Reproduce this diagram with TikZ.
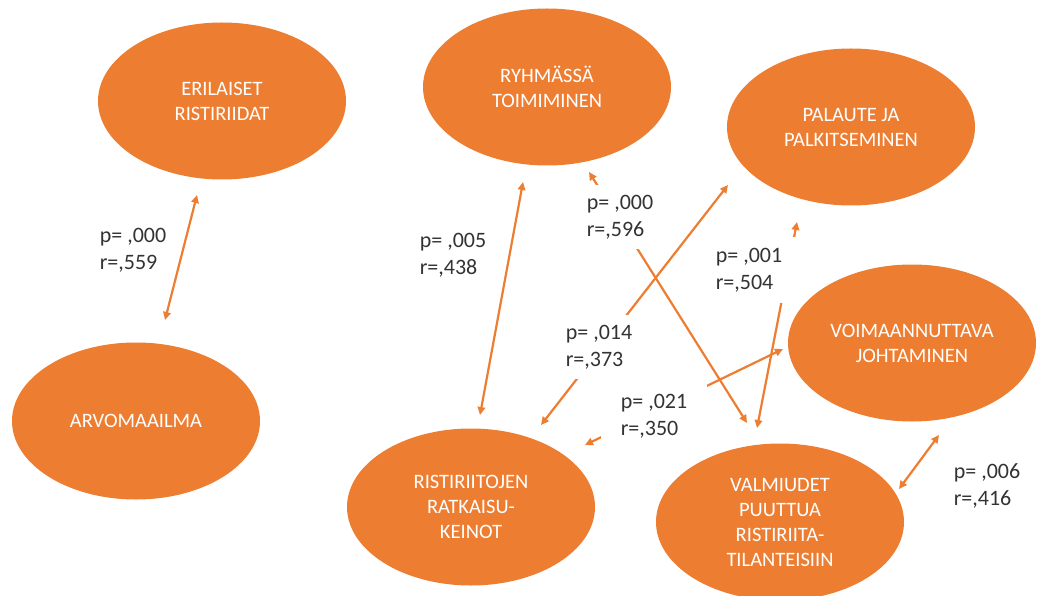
\documentclass[tikz,border=0pt]{standalone}
\usepackage{fontspec}
\setmainfont{Carlito}
\usetikzlibrary{shapes.geometric,arrows.meta}
\definecolor{accent}{HTML}{ED7D31}
\definecolor{labelgray}{HTML}{333333}
\begin{document}
\begin{tikzpicture}[x=1pt,y=-1pt,
  topic/.style={ellipse, fill=accent, minimum width=248pt, minimum height=157pt,
    inner sep=0pt, align=center, text=white, font=\fontsize{20.5}{25}\selectfont},
  stat/.style={fill=white, align=left, text=labelgray,
    font=\fontsize{22}{27}\selectfont, inner xsep=2pt, inner ysep=2pt},
  link/.style={draw=accent, line width=2.2pt,
    {Triangle[length=8pt,width=7.5pt]}-{Triangle[length=8pt,width=7.5pt]}}
]
\useasboundingbox (0,0) rectangle (1049,596);

% topics
\node[topic] (erilaiset) at (222,101) {ERILAISET\\RISTIRIIDAT};
\node[topic] (arvo)      at (136,421) {ARVOMAAILMA};
\node[topic] (ryhma)     at (547,87)  {RYHMÄSSÄ\\TOIMIMINEN};
\node[topic] (palaute)   at (851,127) {PALAUTE JA\\PALKITSEMINEN};
\node[topic] (voima)     at (912,343) {VOIMAANNUTTAVA\\JOHTAMINEN};
\node[topic] (ratkaisu)  at (471,507) {RISTIRIITOJEN\\RATKAISU-\\KEINOT};
\node[topic] (valmiudet) at (780,522) {VALMIUDET\\PUUTTUA\\RISTIRIITA-\\TILANTEISIIN};

% connector ends next to the topics
\coordinate (a1) at (197,195); \coordinate (a2) at (165,320);
\coordinate (b1) at (523,182); \coordinate (b2) at (480,415);
\coordinate (c1) at (589,172); \coordinate (c2) at (747,423);
\coordinate (d1) at (728,185); \coordinate (d2) at (541,425);
\coordinate (e1) at (797,222); \coordinate (e2) at (757,428);
\coordinate (f1) at (783,349); \coordinate (f2) at (585,445);
\coordinate (g1) at (939,435); \coordinate (g2) at (899,489);

% correlations
\draw[link] (a1) -- (a2);
\draw[link] (b1) -- (b2);
\draw[link] (c1) -- (c2);
\draw[link] (d1) -- (d2);
\draw[link] (e1) -- (e2);
\draw[link] (f1) -- (f2);
\draw[link] (g1) -- (g2);

% statistics
\node[stat] (s1) at (133,250) {p= ,000\\r=,559};
\node[stat] (s2) at (453,255) {p= ,005\\r=,438};
\node[stat, inner ysep=10pt] (s3) at (620,217) {p= ,000\\r=,596};
\node[stat, inner ysep=11pt, inner xsep=16pt] (s4) at (749,270) {p= ,001\\r=,504};
\node[stat, inner ysep=10pt] (s5) at (599,347) {p= ,014\\r=,373};
\node[stat, inner ysep=10pt, inner xsep=20pt] (s6) at (654,416) {p= ,021\\r=,350};
\node[stat] (s7) at (987,486) {p= ,006\\r=,416};
\end{tikzpicture}
\end{document}
